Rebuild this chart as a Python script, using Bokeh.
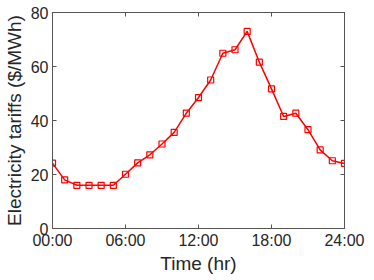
from bokeh.plotting import figure
from bokeh.models import FixedTicker, LinearAxis, Range1d, CustomJSTickFormatter
from bokeh.embed import file_html
from bokeh.resources import INLINE

hours = list(range(25))
tariffs = [24.2, 18.0, 16.0, 16.0, 16.0, 16.0, 20.1, 24.3, 27.3, 31.3, 35.6, 42.7,
           48.5, 55.0, 64.9, 66.2, 73.0, 61.6, 51.7, 41.5, 42.7, 36.6, 29.1, 25.1, 24.1]
x_ticks = [0, 6, 12, 18, 24]
x_tick_labels = ["00:00", "06:00", "12:00", "18:00", "24:00"]
y_ticks = [0, 20, 40, 60, 80]

FONT = "Liberation Sans"
AX = "#555555"

p = figure(frame_width=292, frame_height=216, output_backend="svg", toolbar_location=None,
           x_range=Range1d(0, 24), y_range=Range1d(0, 80),
           min_border_left=45, min_border_right=21, min_border_top=12, min_border_bottom=36)
p.grid.visible = False
p.outline_line_color = AX
p.outline_line_width = 1

for ax in (p.xaxis[0], p.yaxis[0]):
    ax.major_tick_in = 4
    ax.major_tick_out = 0
    ax.minor_tick_line_color = None
    ax.axis_line_color = AX
    ax.major_tick_line_color = AX
    ax.major_label_text_font = FONT
    ax.major_label_text_font_size = "16px"
    ax.major_label_text_color = "#262626"
    ax.axis_label_text_font = FONT
    ax.axis_label_text_font_size = "19px"
    ax.axis_label_text_font_style = "normal"
    ax.axis_label_text_color = "#262626"

p.xaxis[0].ticker = FixedTicker(ticks=x_ticks)
p.xaxis[0].major_label_overrides = {t: l for t, l in zip(x_ticks, x_tick_labels)}
p.xaxis[0].axis_label = "Time (hr)"
p.xaxis[0].axis_label_standoff = 1
p.xaxis[0].major_label_standoff = 3
p.yaxis[0].ticker = FixedTicker(ticks=y_ticks)
p.yaxis[0].axis_label = "Electricity tariffs ($/MWh)"
p.yaxis[0].axis_label_standoff = 3
p.yaxis[0].major_label_standoff = 4

blank = CustomJSTickFormatter(code="return '';")
for ticks, loc in ((x_ticks, "above"), (y_ticks, "right")):
    ax = LinearAxis(ticker=FixedTicker(ticks=ticks), formatter=blank,
                    major_label_standoff=0, major_tick_in=4, major_tick_out=0,
                    minor_tick_line_color=None, axis_line_color=AX, major_tick_line_color=AX)
    p.add_layout(ax, loc)

p.line(hours, tariffs, line_color="#ff0000", line_width=1.5)
p.scatter(hours, tariffs, marker="square", size=6, fill_color=None,
          line_color="#ff0000", line_width=1.2)

open("out.html", "w").write(file_html(p, INLINE))
